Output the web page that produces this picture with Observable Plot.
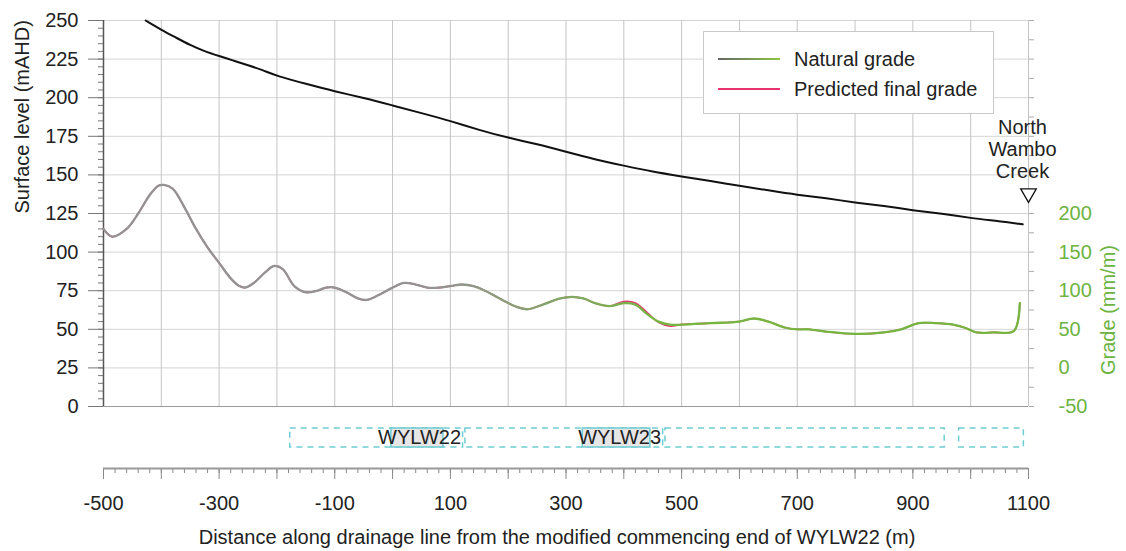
<!DOCTYPE html>
<html><head><meta charset="utf-8">
<script src="https://cdn.jsdelivr.net/npm/d3@7"></script>
<script src="https://cdn.jsdelivr.net/npm/@observablehq/plot@0.6"></script>
<style>
body{margin:0;background:#fff;font-family:"Liberation Sans",Arial,sans-serif;}
#wrap{position:relative;width:1126px;height:551px;overflow:hidden;background:#fff;}
#wrap svg{display:block;}
.legend{position:absolute;left:703px;top:31px;width:291px;height:83px;border:1px solid #c8c8c8;background:#fff;box-sizing:border-box;font-size:20px;color:#222;}
.legend .row{position:absolute;left:14px;height:24px;display:flex;align-items:center;white-space:nowrap;}
.legend svg{margin-right:14px;}
</style></head>
<body><div id="wrap"></div>
<script>
// ---- data ----
const xDomain = [-500, 1100];
const surfaceDist = [-427,-400,-375,-350,-325,-300,-275,-250,-225,-200,-150,-100,-50,0,50,100,150,200,250,300,350,400,450,500,550,600,650,700,750,800,850,900,950,1000,1050,1090];
const surfaceLevel = [250,244,239,234,230,227,224,221,218,214,209,204,200,195,190,185,179,174,170,165,160,156,152,149,146,143,140,137,135,132,130,127,125,122,120,118];
const gradeDist = [-500,-485,-460,-440,-420,-405,-395,-380,-360,-340,-320,-300,-280,-265,-255,-240,-220,-205,-190,-170,-150,-130,-115,-100,-80,-60,-45,-25,0,20,40,60,80,100,120,140,160,180,200,215,233,260,290,310,330,350,375,400,420,440,460,480,500,550,600,625,650,680,700,720,750,800,850,880,910,940,970,990,1010,1040,1075,1085];
const naturalGrade = [180,170,180,200,224,236,237,232,208,180,156,136,116,106,104,110,124,132,128,106,98,100,104,104,98,90,88,94,104,110,108,104,104,106,108,106,100,92,84,79,76,82,90,92,90,84,80,84,82,70,60,56,56,58,60,64,60,52,50,50,47,44,46,50,58,58,56,52,46,46,48,84];
const predictedGrade = [180,170,180,200,224,236,237,232,208,180,156,136,116,106,104,110,124,132,128,106,98,100,104,104,98,90,88,94,104,110,108,104,104,106,108,106,100,92,84,79,76,82,90,92,90,84,80,86,84,72,59,54,56,58,60,64,60,52,50,50,47,44,46,50,58,58,56,52,46,46,48,84];
const surfaceTicks = [0,25,50,75,100,125,150,175,200,225,250];
const gradeTicks = [-50,0,50,100,150,200];
const xGridTicks = [-400,-300,-200,-100,0,100,200,300,400,500,600,700,800,900,1000,1100];
const xLabelTicks = [-500,-300,-100,100,300,500,700,900,1100];
const creek = {dist: 1100, level: 138, name: "North\nWambo\nCreek"};
const panelExtent = [
  {start: -177, end: 122, name: "WYLW22"},
  {start: 126, end: 468, name: "WYLW23"},
  {start: 472, end: 955, name: ""},
  {start: 980, end: 1092, name: ""}
];
const panelSolid = [{start: -2, end: 88}, {start: 329, end: 446}];
const legendItems = ["Natural grade", "Predicted final grade"];

// ---- helpers ----
const toSurface = g => (g + 50) / 2;   // right axis (mm/m) onto left axis (mAHD)
const surfaceTable = surfaceDist.map((d, i) => ({d, v: surfaceLevel[i]}));
const gradeTable = gradeDist.map((d, i) => ({d, natural: naturalGrade[i], predicted: predictedGrade[i]}));
const W = 1126, ML = 103, MR = 98;
const FONT = '"Liberation Sans", Arial, sans-serif';
const GREEN = "#6db33f", PINK = "#e8336d", CYAN = "#6dcdd2";
const surfaceMinor = d3.range(0, 250.1, 5);
const gradeMinor = d3.range(-50, 450.1, 25);
const xMinor = d3.range(-500, 1100.1, 20);
const plain = d => String(d);

const wrap = document.getElementById("wrap");

const main = Plot.plot({
  width: W, height: 420, marginLeft: ML, marginRight: MR, marginTop: 20, marginBottom: 14,
  x: {domain: xDomain, axis: null}, y: {domain: [0, 250]},
  style: {fontFamily: FONT, fontSize: "20px", color: "#222", background: "#fff", overflow: "visible"},
  marks: [
    Plot.gridY(surfaceTicks, {stroke: "#d4d4d4", strokeOpacity: 1}),
    Plot.gridX(xGridTicks, {stroke: "#c4c4c4", strokeOpacity: 1}),
    Plot.ruleY([0], {stroke: "#9a9a9a"}),
    Plot.ruleX([xDomain[0]], {stroke: "#555", strokeWidth: 1.5}),
    Plot.axisY(surfaceMinor, {tickSize: 5, tickFormat: () => "", stroke: "#777", label: null}),
    Plot.axisY(surfaceTicks, {tickSize: 15, tickPadding: 10, tickFormat: plain, stroke: "#777", fill: "#222", fontSize: 20, label: null}),
    Plot.axisY(gradeMinor.map(toSurface), {anchor: "right", tickSize: 5, tickFormat: () => "", stroke: "#aaa", label: null}),
    Plot.axisY(gradeTicks.map(toSurface), {anchor: "right", tickSize: 0, tickPadding: 30, tickFormat: v => String(2 * v - 50), fill: GREEN, fontSize: 20, label: null}),
    Plot.text(["Surface level (mAHD)"], {frameAnchor: "left", dx: -81, rotate: -90, fontSize: 20, fill: "#222"}),
    Plot.text(["Grade (mm/m)"], {x: xDomain[1], y: toSurface((gradeTicks[0] + gradeTicks[gradeTicks.length - 1]) / 2), dx: 80, rotate: -90, fontSize: 20, fill: GREEN}),
    Plot.line(surfaceTable, {x: "d", y: "v", stroke: "#111", strokeWidth: 2, curve: "basis"}),
    Plot.line(gradeTable, {x: "d", y: d => toSurface(d.predicted), stroke: PINK, strokeWidth: 1.6, curve: "catmull-rom"}),
    Plot.line(gradeTable, {x: "d", y: d => toSurface(d.natural), stroke: "url(#naturalGradeGrad)", strokeWidth: 2.3, curve: "catmull-rom"}),
    Plot.dot([creek], {x: "dist", y: "level", symbol: "triangle", rotate: 180, r: 5.8, stroke: "#111", fill: "#fff", strokeWidth: 1.3}),
    Plot.text([creek], {x: "dist", y: "level", text: "name", lineAnchor: "bottom", dy: -15, dx: -6, fontSize: 20, lineHeight: 1.1, fill: "#222"})
  ]
});
// gradient for the natural grade line (grey -> green along the distance axis)
const xs = main.scale("x");
const defs = d3.select(main).insert("defs", ":first-child");
const grad = defs.append("linearGradient").attr("id", "naturalGradeGrad")
  .attr("gradientUnits", "userSpaceOnUse")
  .attr("x1", xs.apply(80)).attr("x2", xs.apply(460)).attr("y1", 0).attr("y2", 0);
grad.append("stop").attr("offset", 0).attr("stop-color", "#939393");
grad.append("stop").attr("offset", 1).attr("stop-color", "#76b640");
wrap.appendChild(main);

const panels = Plot.plot({
  width: W, height: 40, marginLeft: ML, marginRight: MR, marginTop: 8, marginBottom: 13,
  x: {domain: xDomain, axis: null},
  style: {fontFamily: FONT, fontSize: "20px", color: "#222", background: "#fff", overflow: "visible"},
  marks: [
    Plot.rect(panelExtent, {x1: "start", x2: "end", fill: "none", stroke: CYAN, strokeWidth: 1.5, strokeDasharray: "6,5"}),
    Plot.rect(panelSolid, {x1: "start", x2: "end", fill: "#e6e6e6", stroke: CYAN, strokeWidth: 1.5}),
    Plot.text(panelExtent, {x: "end", text: "name", textAnchor: "end", dx: -2, fontSize: 20, fill: "#222"})
  ]
});
wrap.appendChild(panels);

const axis = Plot.plot({
  width: W, height: 91, marginLeft: ML, marginRight: MR, marginTop: 0, marginBottom: 83,
  x: {domain: xDomain, axis: null}, y: {domain: [0, 1], axis: null},
  style: {fontFamily: FONT, fontSize: "20px", color: "#222", background: "#fff", overflow: "visible"},
  marks: [
    Plot.axisX(xMinor, {tickSize: 5, tickFormat: () => "", stroke: "#888", label: null}),
    Plot.axisX([xDomain[0], ...xGridTicks], {tickSize: 11, tickFormat: () => "", stroke: "#888", label: null}),
    Plot.axisX(xLabelTicks, {tickSize: 0, tickPadding: 27, tickFormat: plain, fill: "#222", fontSize: 20, label: null}),
    Plot.ruleY([0], {stroke: "#999", strokeWidth: 2}),
    Plot.text(["Distance along drainage line from the modified commencing end of WYLW22 (m)"], {frameAnchor: "bottom", dy: 75, dx: -9, fontSize: 20, fill: "#222"})
  ]
});
wrap.appendChild(axis);

// legend
const legend = document.createElement("div");
legend.className = "legend";
const swatches = [
  '<svg width="62" height="4"><defs><linearGradient id="lg1"><stop offset="0" stop-color="#666"/><stop offset="1" stop-color="#8cc63f"/></linearGradient></defs><rect width="62" height="2" y="1" fill="url(#lg1)"/></svg>',
  '<svg width="62" height="4"><rect width="62" height="2" y="1" fill="' + PINK + '"/></svg>'
];
legendItems.forEach((name, i) => {
  const row = document.createElement("div");
  row.className = "row";
  row.style.top = (15 + i * 30) + "px";
  row.innerHTML = swatches[i] + "<span>" + name + "</span>";
  legend.appendChild(row);
});
wrap.appendChild(legend);
</script></body></html>
